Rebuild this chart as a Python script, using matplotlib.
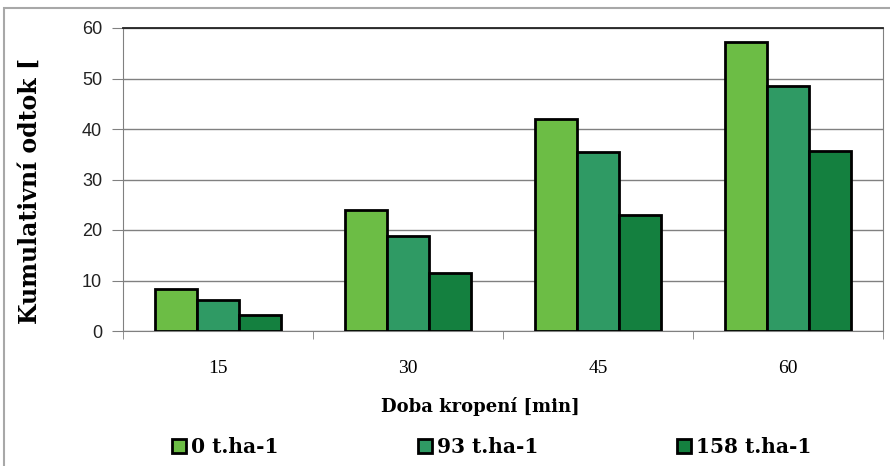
import numpy as np
import matplotlib
matplotlib.use("Agg")
import matplotlib.pyplot as plt
from matplotlib.patches import Rectangle

# cumulative runoff per sprinkling time and mulch dose
times = ["15", "30", "45", "60"]
series_names = ["0 t.ha-1", "93 t.ha-1", "158 t.ha-1"]
dose_0 = [8.3, 24.0, 42.0, 57.2]
dose_93 = [6.1, 18.8, 35.4, 48.6]
dose_158 = [3.1, 11.4, 22.9, 35.7]
colors = ["#6cbd45", "#2f9a64", "#14803f"]

fig = plt.figure(figsize=(8.9, 4.66), dpi=100)
ax = fig.add_axes([123 / 890, 1 - 331 / 466, 760 / 890, 303 / 466])

# grey frame around the whole chart
fig.patches.append(Rectangle((4 / 890, -0.02), 1.0, 1 - 8 / 466 + 0.02,
                             transform=fig.transFigure, fill=False,
                             edgecolor="#a8a8a8", linewidth=1.5))

x = np.arange(len(times))
w = 0.222
for i, vals in enumerate([dose_0, dose_93, dose_158]):
    ax.bar(x + (i - 1) * w, vals, width=w, color=colors[i],
           edgecolor="black", linewidth=2, label=series_names[i], zorder=3)

ax.set_xlim(-0.5, 3.5)
ax.set_ylim(0, 60)
ax.set_yticks(range(0, 61, 10))
ax.yaxis.grid(True, color="#808080", linewidth=1, zorder=0)

ax.set_xticks(x)
ax.set_xticklabels(times, family="Liberation Serif", fontsize=14)
ax.set_xticks(np.arange(-0.5, 4, 1), minor=True)
ax.tick_params(axis="x", which="major", length=0, pad=21)
ax.tick_params(axis="x", which="minor", length=6, color="#808080")
ax.tick_params(axis="y", length=8, color="#808080", pad=7)
for lab in ax.get_yticklabels():
    lab.set_family("Liberation Sans")
    lab.set_fontsize(13)
    lab.set_color("#222222")

for side in ["left", "bottom", "right"]:
    ax.spines[side].set_color("#808080")
ax.spines["top"].set_color("#222222")
ax.spines["top"].set_linewidth(1.3)

fig.text(30 / 890, 1 - 191 / 466, "Kumulativní odtok [", rotation=90,
         ha="center", va="center", family="DejaVu Serif",
         fontweight="bold", fontsize=17)
fig.text(480 / 890, 1 - 407 / 466, "Doba kropení [min]", ha="center",
         va="center", family="DejaVu Serif", fontweight="bold",
         fontsize=13)

leg = fig.legend(loc="center left", bbox_to_anchor=(172 / 890, 1 - 447 / 466),
                 ncol=3, frameon=False, borderpad=0, borderaxespad=0,
                 prop={"family": "DejaVu Serif", "weight": "bold",
                       "size": 14.5},
                 handlelength=0.7, handleheight=0.7, handletextpad=0.25,
                 columnspacing=6.9)

fig.savefig("out.png", dpi=100)
